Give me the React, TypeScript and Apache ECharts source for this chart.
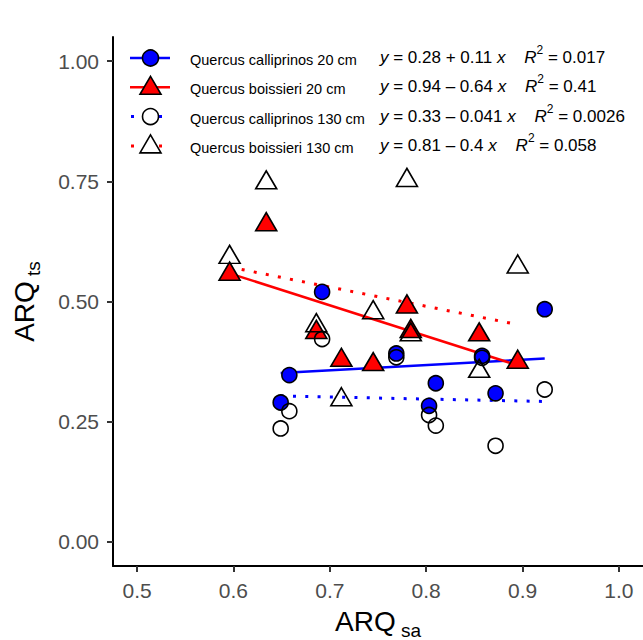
import React, { useEffect, useRef } from "react";
import * as echarts from "echarts";

// ---- data ----
const xCalliprinos = [0.649, 0.658, 0.692, 0.769, 0.803, 0.81, 0.858, 0.872, 0.923];
const yCalliprinos20 = [0.29, 0.347, 0.52, 0.392, 0.283, 0.33, 0.387, 0.309, 0.484];
const yCalliprinos130 = [0.236, 0.272, 0.422, 0.384, 0.264, 0.242, 0.383, 0.2, 0.317];
const xBoissieri = [0.596, 0.634, 0.686, 0.712, 0.745, 0.78, 0.784, 0.855, 0.895];
const yBoissieri20 = [0.563, 0.666, 0.442, 0.384, 0.375, 0.495, 0.444, 0.437, 0.38];
const yBoissieri130 = [0.598, 0.753, 0.456, 0.302, 0.483, 0.758, 0.437, 0.361, 0.578];

const seriesNames = [
  "Quercus calliprinos 20 cm",
  "Quercus boissieri 20 cm",
  "Quercus calliprinos 130 cm",
  "Quercus boissieri 130 cm",
];
const intercepts = [0.28, 0.94, 0.33, 0.81];
const slopes = [0.11, -0.64, -0.041, -0.4];
const interceptLabels = ["0.28", "0.94", "0.33", "0.81"];
const slopeLabels = ["+ 0.11", "\u2013 0.64", "\u2013 0.041", "\u2013 0.4"];
const r2Labels = ["0.017", "0.41", "0.0026", "0.058"];

const xTicks = [0.5, 0.6, 0.7, 0.8, 0.9, 1.0];
const yTicks = [0, 0.25, 0.5, 0.75, 1.0];

const FONT = "'Liberation Sans', Arial, sans-serif";
const BLUE = "#0000FF";
const RED = "#FF0000";

export default function App() {
  const ref = useRef<HTMLDivElement>(null);

  useEffect(() => {
    if (!ref.current) return;
    const chart = echarts.init(ref.current, undefined, { renderer: "svg" });

    const pts = (xs: number[], ys: number[]) => xs.map((x, i) => [x, ys[i]]);
    const fitLine = (xs: number[], k: number) => {
      const lo = Math.min(...xs);
      const hi = Math.max(...xs);
      return [
        [lo, intercepts[k] + slopes[k] * lo],
        [hi, intercepts[k] + slopes[k] * hi],
      ];
    };

    const groups = [
      { xs: xCalliprinos, ys: yCalliprinos20, color: BLUE, dotted: false, symbol: "circle", filled: true },
      { xs: xBoissieri, ys: yBoissieri20, color: RED, dotted: false, symbol: "triangle", filled: true },
      { xs: xCalliprinos, ys: yCalliprinos130, color: BLUE, dotted: true, symbol: "circle", filled: false },
      { xs: xBoissieri, ys: yBoissieri130, color: RED, dotted: true, symbol: "triangle", filled: false },
    ];

    const dotType = [3, 9.3];

    const series: any[] = [];
    groups.forEach((g, k) => {
      series.push({
        type: "line",
        name: seriesNames[k] + " fit",
        data: fitLine(g.xs, k),
        showSymbol: false,
        symbol: "none",
        silent: true,
        z: 2,
        lineStyle: {
          color: g.color,
          width: g.dotted ? 3 : 2.5,
          type: g.dotted ? dotType : "solid",
          cap: "butt",
        },
      });
    });
    groups.forEach((g, k) => {
      series.push({
        type: "scatter",
        name: seriesNames[k],
        data: pts(g.xs, g.ys),
        symbol: g.symbol,
        symbolSize: g.symbol === "circle" ? 15 : [21, 18],
        z: g.filled ? 3 : 4,
        itemStyle: {
          color: g.filled ? g.color : "rgba(0,0,0,0)",
          borderColor: "#000",
          borderWidth: 1.6,
          opacity: 1,
        },
      });
    });

    // legend drawn with graphic elements
    const legendTop = 58;
    const rowGap = 29.3;
    const graphics: any[] = [];
    groups.forEach((g, k) => {
      const cy = legendTop + k * rowGap;
      graphics.push({
        type: "line",
        shape: { x1: 130, y1: cy, x2: 170, y2: cy },
        style: {
          stroke: g.color,
          lineWidth: g.dotted ? 3 : 2.5,
          lineDash: g.dotted ? [3, 11] : null,
          lineDashOffset: g.dotted ? -1 : 0,
        },
        z: 10,
      });
      if (g.symbol === "circle") {
        graphics.push({
          type: "circle",
          shape: { cx: 150.5, cy, r: 8 },
          style: { fill: g.filled ? g.color : "#fff", stroke: "#000", lineWidth: 1.6 },
          z: 11,
        });
      } else {
        graphics.push({
          type: "polygon",
          shape: { points: [[150.5, cy - 11], [161, cy + 7], [140, cy + 7]] },
          style: { fill: g.filled ? g.color : "#fff", stroke: "#000", lineWidth: 1.6 },
          z: 11,
        });
      }
      graphics.push({
        type: "text",
        x: 190,
        y: cy + 2,
        style: {
          text: seriesNames[k],
          font: `14.5px ${FONT}`,
          fill: "#000",
          verticalAlign: "middle",
        },
        z: 11,
      });
      graphics.push({
        type: "text",
        x: 380,
        y: cy + 8,
        style: {
          text: `{i|y}{n| = ${interceptLabels[k]} ${slopeLabels[k]} }{i|x}{n|    }{i|R}{sup|2}{n| = ${r2Labels[k]}}`,
          verticalAlign: "bottom",
          rich: {
            n: { font: `17px ${FONT}`, fill: "#000", verticalAlign: "bottom", lineHeight: 22 },
            i: { font: `italic 17px ${FONT}`, fill: "#000", verticalAlign: "bottom", lineHeight: 22 },
            sup: { font: `12px ${FONT}`, fill: "#000", verticalAlign: "top", lineHeight: 22 },
          },
        },
        z: 11,
      });
    });

    const titleRich = {
      a: { fontSize: 28, fontFamily: FONT, color: "#000", verticalAlign: "bottom", padding: [0, 0, 5, 0] },
      s: { fontSize: 19, fontFamily: FONT, color: "#000", verticalAlign: "bottom" },
    };

    chart.setOption({
      animation: false,
      backgroundColor: "#fff",
      grid: { left: 113, top: 37, right: 0, bottom: 74, containLabel: false, outerBoundsMode: "none" },
      xAxis: {
        type: "value",
        min: 0.475,
        max: 1.025,
        name: "{a|ARQ}{s| sa}",
        nameLocation: "middle",
        nameGap: 41,
        nameTextStyle: { rich: titleRich },
        axisLine: { show: true, onZero: false, lineStyle: { color: "#000", width: 2 } },
        axisTick: { show: true, length: 6, customValues: xTicks, lineStyle: { color: "#333", width: 2 } },
        axisLabel: {
          customValues: xTicks,
          formatter: (v: number) => v.toFixed(1),
          color: "#4D4D4D",
          fontSize: 21,
          fontFamily: FONT,
          margin: 14,
        },
        splitLine: { show: false },
      },
      yAxis: {
        type: "value",
        min: -0.05,
        max: 1.05,
        name: "{a|ARQ}{s| ts}",
        nameLocation: "middle",
        nameRotate: 90,
        nameGap: 70,
        nameTextStyle: { rich: titleRich },
        axisLine: { show: true, onZero: false, lineStyle: { color: "#000", width: 2 } },
        axisTick: { show: true, length: 6, customValues: yTicks, lineStyle: { color: "#333", width: 2 } },
        axisLabel: {
          customValues: yTicks,
          formatter: (v: number) => v.toFixed(2),
          color: "#4D4D4D",
          fontSize: 21,
          fontFamily: FONT,
          margin: 14,
        },
        splitLine: { show: false },
      },
      series,
      graphic: graphics,
    });

    return () => chart.dispose();
  }, []);

  return (
    <div
      ref={ref}
      style={{ position: "fixed", left: 0, top: 0, width: 643, height: 640, background: "#fff" }}
    />
  );
}
